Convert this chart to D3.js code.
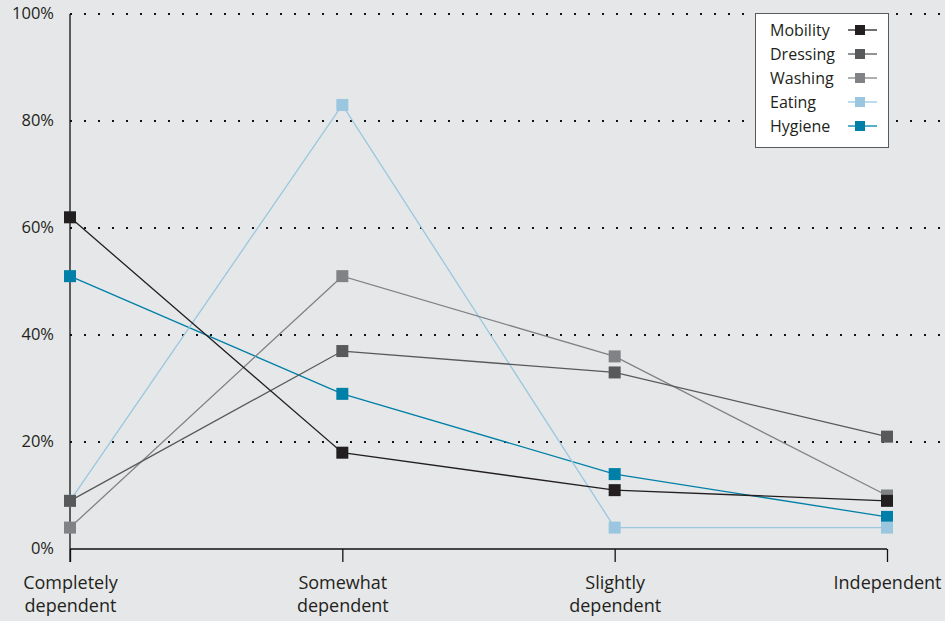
<!DOCTYPE html>
<html>
<head>
<meta charset="utf-8">
<script src="https://cdn.jsdelivr.net/npm/d3@7"></script>
<style>
  html, body { margin: 0; padding: 0; background: #e6e7e8; }
  svg { display: block; font-family: "Open Sans", sans-serif; }
</style>
</head>
<body>
<svg id="chart" width="945" height="621"></svg>
<script>
// Level of dependence categories (x axis)
const categories = [["Completely", "dependent"], ["Somewhat", "dependent"], ["Slightly", "dependent"], ["Independent"]];
const categoryKeys = ["Completely dependent", "Somewhat dependent", "Slightly dependent", "Independent"];

// Share of people (%) per activity
const seriesNames = ["Mobility", "Dressing", "Washing", "Eating", "Hygiene"];
const mobility = [62, 18, 11, 9];
const dressing = [9, 37, 33, 21];
const washing  = [4, 51, 36, 10];
const eating   = [9, 83, 4, 4];
const hygiene  = [51, 29, 14, 6];
const seriesColors = ["#231f20", "#58595b", "#808285", "#9ac7df", "#0080a8"];

const yTicks = [0, 20, 40, 60, 80, 100];

const series = seriesNames.map((name, i) => ({
  name,
  color: seriesColors[i],
  values: [mobility, dressing, washing, eating, hygiene][i]
}));

const svg = d3.select("#chart");

const x = d3.scalePoint().domain(categoryKeys).range([70, 887]);
const y = d3.scaleLinear().domain([0, 100]).range([549, 14]);

// Dotted gridlines
svg.append("g")
  .selectAll("line")
  .data(yTicks.filter(d => d > 0))
  .join("line")
  .attr("x1", 70).attr("x2", 945)
  .attr("y1", d => y(d)).attr("y2", d => y(d))
  .attr("stroke", "#111")
  .attr("stroke-width", 2)
  .attr("stroke-dasharray", "2,12");

// Y axis
const yAxis = svg.append("g").attr("transform", "translate(70,0)")
  .call(d3.axisLeft(y).tickValues(yTicks).tickFormat(d => d + "%").tickSize(0).tickPadding(16));
yAxis.select(".domain").remove();
yAxis.selectAll("text").attr("font-size", 16.5).attr("fill", "#231f20")
  .attr("font-family", "Open Sans, sans-serif").attr("dy", "0.25em");
svg.append("line").attr("x1", 70).attr("x2", 70).attr("y1", y(100)).attr("y2", 562)
  .attr("stroke", "#111").attr("stroke-width", 1.3);

// X axis
const xAxis = svg.append("g").attr("transform", "translate(0,549)")
  .call(d3.axisBottom(x).tickSize(13).tickFormat(""));
xAxis.select(".domain").attr("stroke", "#111").attr("stroke-width", 1.3)
  .attr("d", `M70,0H${x(categoryKeys[3])}`);
xAxis.selectAll(".tick line").attr("stroke", "#111").attr("stroke-width", 1.3);
xAxis.selectAll(".tick").each(function(d, i) {
  const t = d3.select(this).append("text")
    .attr("text-anchor", "middle")
    .attr("fill", "#231f20")
    .attr("font-size", 18)
    .attr("font-family", "Open Sans, sans-serif");
  categories[i].forEach((line, j) => {
    t.append("tspan").attr("x", 0).attr("y", 40 + j * 23).text(line);
  });
});

// Lines and square markers; later series in the list sit on top
const line = d3.line().x((d, i) => x(categoryKeys[i])).y(d => y(d));
const drawOrder = series.slice().reverse();

const gSeries = svg.append("g").selectAll("g").data(drawOrder).join("g");
gSeries.append("path")
  .attr("d", d => line(d.values))
  .attr("fill", "none")
  .attr("stroke", d => d.color)
  .attr("stroke-width", 1.3);
gSeries.selectAll("rect")
  .data(d => d.values.map((v, i) => ({ v, i, color: d.color })))
  .join("rect")
  .attr("x", d => x(categoryKeys[d.i]) - 6)
  .attr("y", d => y(d.v) - 6)
  .attr("width", 12).attr("height", 12)
  .attr("fill", d => d.color);

// Legend
const legend = svg.append("g").attr("transform", "translate(755,13)");
legend.append("rect")
  .attr("x", 0.5).attr("y", 0.5).attr("width", 133).attr("height", 134)
  .attr("fill", "#ffffff").attr("stroke", "#58595b").attr("stroke-width", 1);
const items = legend.selectAll("g.item").data(series).join("g")
  .attr("class", "item")
  .attr("transform", (d, i) => `translate(0,${17 + i * 24})`);
items.append("text")
  .attr("x", 15).attr("y", 0).attr("dy", "0.35em")
  .attr("font-size", 16).attr("fill", "#231f20")
  .attr("font-family", "Open Sans, sans-serif")
  .text(d => d.name);
items.append("line")
  .attr("x1", 93).attr("x2", 122).attr("y1", 0).attr("y2", 0)
  .attr("stroke", d => d.color).attr("stroke-width", 1.3);
items.append("rect")
  .attr("x", 100).attr("y", -5).attr("width", 10).attr("height", 10)
  .attr("fill", d => d.color);
</script>
</body>
</html>
